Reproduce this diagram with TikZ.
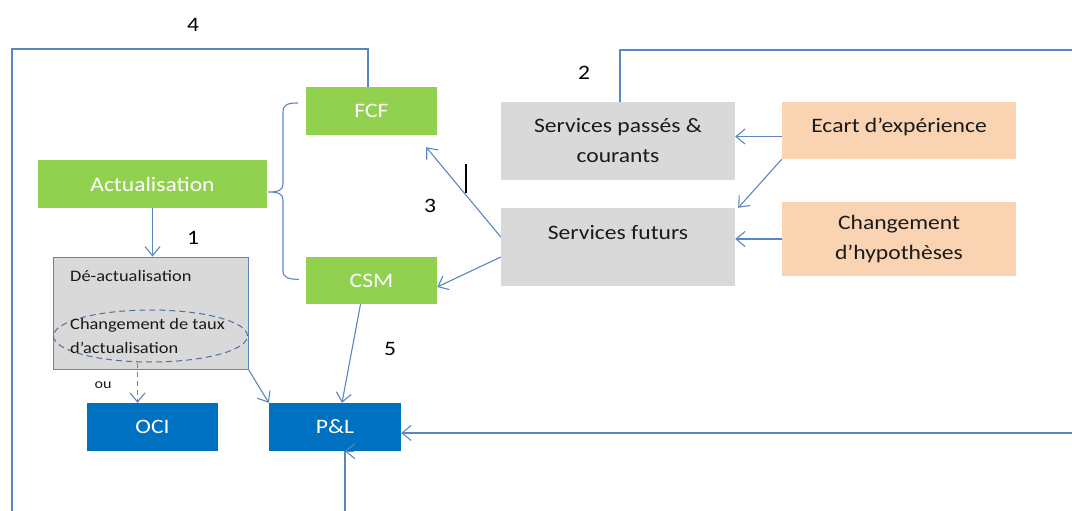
\documentclass[tikz,border=0pt]{standalone}
\usepackage{fontspec}
\setmainfont{Carlito}[FakeStretch=1.15]
\usetikzlibrary{arrows.meta,calc,shapes.geometric}

\definecolor{lnk}{HTML}{5A86C4}
\definecolor{dashlnk}{HTML}{4F6FA0}
\definecolor{grn}{HTML}{92D050}
\definecolor{blu}{HTML}{0070C0}
\definecolor{gry}{HTML}{D9D9D9}
\definecolor{pch}{HTML}{FAD3B3}
\definecolor{ink}{HTML}{1A1A1A}

\tikzset{
  box/.style={rectangle, inner sep=0pt, align=center,
    font=\fontsize{20.5}{30}\selectfont},
  greenbox/.style={box, fill=grn, text=white},
  bluebox/.style={box, fill=blu, text=white},
  graybox/.style={box, fill=gry, text=ink},
  peachbox/.style={box, fill=pch, text=ink},
  smalltext/.style={inner sep=0pt, text=ink, align=left,
    font=\fontsize{16}{24}\selectfont},
  numlabel/.style={inner sep=0pt, text=black,
    font=\fontsize{20.5}{24}\selectfont},
  link/.style={draw=lnk, line width=1.1pt},
  arr/.style={link, -{Straight Barb[length=9pt, width=15pt]}},
}

\begin{document}
\begin{tikzpicture}[x=1pt, y=-1pt]
\useasboundingbox (0,0) rectangle (1072,511);

% ---- boxes ----
\node[greenbox, minimum width=131, minimum height=48] (fcf) at (371.5,111) {FCF};
\node[greenbox, minimum width=229, minimum height=48] (act) at (152.5,184) {Actualisation};
\node[greenbox, minimum width=131, minimum height=47] (csm) at (371.5,280.5) {CSM};
\node[graybox, draw=lnk, line width=0.9pt, minimum width=195, minimum height=112] (deact) at (150.5,313) {};
\node[bluebox, minimum width=131, minimum height=48] (oci) at (152.5,427) {OCI};
\node[bluebox, minimum width=132, minimum height=48] (pl) at (335,427) {P\&L};

\node[graybox, minimum width=234, minimum height=78] (spc) at (618,141) {Services passés \&\\courants};
\node[graybox, minimum width=234, minimum height=78, text height=14pt, text depth=30pt] (sf) at (618,247) {Services futurs};
\node[peachbox, minimum width=234, minimum height=57, text height=14pt, text depth=10pt] (ecart) at (899,130.5) {Ecart d’expérience};
\node[peachbox, minimum width=234, minimum height=74] (ch) at (899,239) {Changement\\d’hypothèses};

% ---- contents of the discounting box ----
\node[smalltext, anchor=west] (dea) at (70,276) {Dé-actualisation};
\node[ellipse, draw=dashlnk, line width=1pt, dash pattern=on 6pt off 4pt,
      minimum width=194, minimum height=52, inner sep=0pt] (tauxell) at (150.5,336) {};
\node[smalltext, anchor=west] (taux) at (70,336) {Changement de taux\\d’actualisation};
\node[inner sep=0pt, text=ink, font=\fontsize{14}{16}\selectfont] (ou) at (103,385) {ou};

% ---- step numbers ----
\node[numlabel] (n1) at (193,238) {1};
\node[numlabel] (n2) at (584,73) {2};
\node[numlabel] (n3) at (430,206) {3};
\node[numlabel] (n4) at (193,25) {4};
\node[numlabel] (n5) at (390,349) {5};

% text cursor mark
\draw[black, line width=2pt] (466,164) -- (466,193);

% ---- brace grouping FCF and CSM ----
\coordinate (bt) at ($(fcf.west)+(-8,-8)$);
\coordinate (bm) at ($(act.east)+(1,8)$);
\coordinate (bb) at ($(csm.west)+(-7,-1)$);
\draw[link] (bt) .. controls (289,103) and (283,104) .. (283,112)
  -- (283,184) .. controls (283,190) and (279,192) .. (bm)
  .. controls (279,192) and (283,194) .. (283,200)
  -- (283,271) .. controls (283,278) and (289,279) .. (bb);

% ---- connectors ----
\draw[arr] (act.south) -- (act.south |- deact.north);
\draw[arr, dash pattern=on 5pt off 4pt] ([xshift=-13pt]tauxell.south) -- ([xshift=-13pt]tauxell.south |- oci.north);
\draw[arr] (deact.south east) -- (pl.north west);
\draw[arr] ([xshift=-11pt]csm.south) -- ([xshift=7pt]pl.north);

\draw[arr] ([yshift=-6pt]ecart.west) -- ([yshift=-6pt]ecart.west -| spc.east);
\draw[arr] (ecart.south west) -- ([xshift=3pt]sf.north east);
\draw[arr] (ch.west) -- (ch.west -| sf.east);
\draw[arr] ([yshift=10pt]sf.west) -- ($(fcf.south east)+(-11,12)$);
\draw[arr] ([yshift=-10pt]sf.west) -- ([yshift=-6.5pt]csm.east);

% loop 4: from the left edge over the top into FCF
\coordinate (lb) at (12,511);
\coordinate (ltop) at (12,49);
\draw[link] (lb) -- (ltop) -| ([xshift=-3.5pt]fcf.north);

% loop 2: from past services over the top to the right edge
\coordinate (rtop) at (1072,50);
\draw[link] ([xshift=2pt]spc.north) |- (rtop);

% feed into P&L from the right edge
\coordinate (rin) at (1072,433);
\draw[arr] (rin) -- (rin -| pl.east);

% feed into P&L from below
\coordinate (bin) at (345,511);
\draw[link] (bin) -- (bin |- pl.south);
\draw[arr] ($(bin |- pl.south)+(9,0)$) -- (bin |- pl.south);
\end{tikzpicture}
\end{document}
